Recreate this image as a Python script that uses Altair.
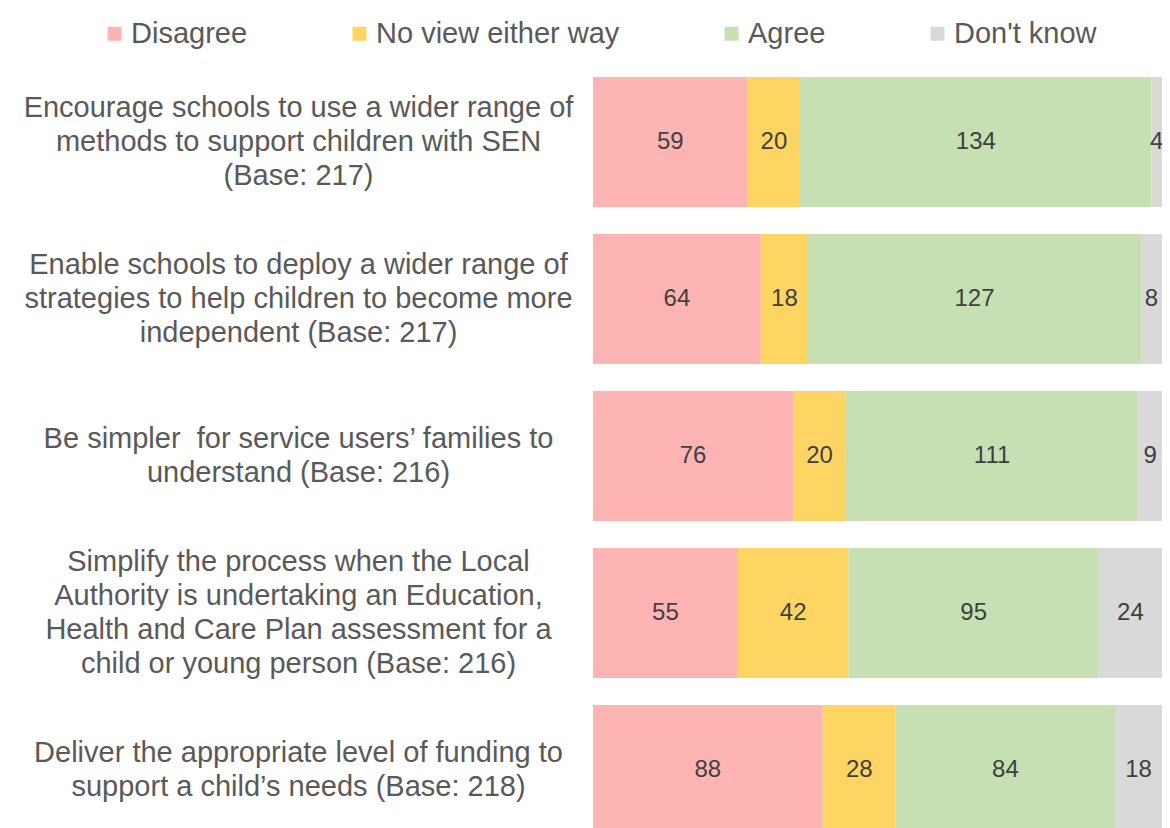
import altair as alt
import pandas as pd

categories = [
    "Encourage schools to use a wider range of|methods to support children with SEN|(Base: 217)",
    "Enable schools to deploy a wider range of|strategies to help children to become more|independent (Base: 217)",
    "Be simpler\u00a0 for service users’ families to|understand (Base: 216)",
    "Simplify the process when the Local|Authority is undertaking an Education,|Health and Care Plan assessment for a|child or young person (Base: 216)",
    "Deliver the appropriate level of funding to|support a child’s needs (Base: 218)",
]
responses = ["Disagree", "No view either way", "Agree", "Don't know"]
colors = ["#FFB4B4", "#FED563", "#C6E0B4", "#D9D9D9"]

disagree = [59, 64, 76, 55, 88]
no_view = [20, 18, 20, 42, 28]
agree = [134, 127, 111, 95, 84]
dont_know = [4, 8, 9, 24, 18]

rows = []
for i, cat in enumerate(categories):
    for j, (resp, series) in enumerate(zip(responses, [disagree, no_view, agree, dont_know])):
        rows.append({"cat": cat, "resp": resp, "order": j, "value": series[i]})
df = pd.DataFrame(rows)

FONT = "Liberation Sans"
LINE_H = 34
n_lines = "length(split(datum.value, '|'))"

base = alt.Chart(df).transform_stack(
    stack="value", groupby=["cat"], as_=["x0", "x1"], offset="normalize",
    sort=[alt.SortField("order", order="ascending")],
).transform_calculate(mid="(datum.x0 + datum.x1) / 2")

y_enc = alt.Y(
    "cat:N", sort=categories,
    scale=alt.Scale(paddingInner=0.172, paddingOuter=0),
    axis=alt.Axis(
        title=None, ticks=False, domain=False, grid=False,
        labelPadding=295, labelAlign="center", labelBaseline="middle",
        labelFontSize=29, labelLineHeight=LINE_H, labelColor="#595959",
        labelFont=FONT, labelLimit=0,
        labelExpr="split(datum.value, '|')",
        labelOffset={
            "condition": [
                {"test": f"{n_lines} == 4", "value": -1.5 * LINE_H},
                {"test": f"{n_lines} == 3", "value": -1.0 * LINE_H},
                {"test": f"{n_lines} == 2", "value": -0.5 * LINE_H},
            ],
            "value": 0,
        },
    ),
)

bars = base.mark_bar().encode(
    x=alt.X("x0:Q", scale=alt.Scale(domain=[0, 1]), axis=None),
    x2="x1:Q",
    y=y_enc,
    color=alt.Color(
        "resp:N",
        scale=alt.Scale(domain=responses, range=colors),
        legend=alt.Legend(
            orient="none", legendX=-493, legendY=-58, direction="horizontal",
            columns=4, columnPadding=97, title=None, symbolType="square",
            symbolSize=196, symbolStrokeWidth=0, symbolOpacity=1,
            labelFontSize=29, labelOffset=2, labelColor="#595959",
            labelFont=FONT, labelLimit=0,
        ),
    ),
)

labels = base.mark_text(fontSize=24, color="#404040", font=FONT).encode(
    x=alt.X("mid:Q", scale=alt.Scale(domain=[0, 1]), axis=None),
    y=alt.Y("cat:N", sort=categories),
    text="value:Q",
)

chart = alt.layer(bars, labels).properties(
    width=569, height=758,
    autosize=alt.AutoSizeParams(type="none"),
    padding={"left": 585, "top": 69, "right": 0, "bottom": 0},
).configure_view(strokeWidth=0)

chart.save("out.html", embed_options={"renderer": "svg", "actions": False})
